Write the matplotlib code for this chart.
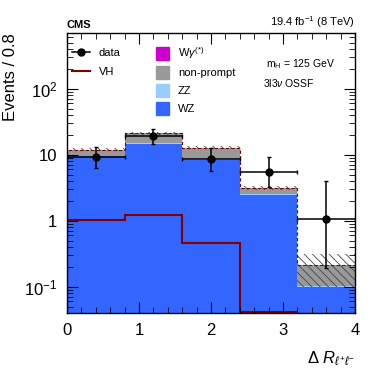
import numpy as np
import matplotlib
matplotlib.use("Agg")
import matplotlib.pyplot as plt
from matplotlib.patches import Patch
from matplotlib.lines import Line2D
from matplotlib.ticker import LogLocator, NullFormatter

plt.rcParams['font.family'] = ['Liberation Sans', 'DejaVu Sans']
plt.rcParams['mathtext.fontset'] = 'custom'
plt.rcParams['mathtext.rm'] = 'Liberation Sans'
plt.rcParams['mathtext.it'] = 'Liberation Sans:italic'
plt.rcParams['hatch.linewidth'] = 0.6

# binning in Delta R
edges = [0.0, 0.8, 1.6, 2.4, 3.2, 4.0]
# stacked backgrounds
wz = [9.4, 14.6, 8.4, 2.45, 0.10]
zz = [0.3, 0.4, 0.3, 0.10, 0.003]
nonprompt = [2.2, 6.0, 4.1, 0.55, 0.11]
wgamma = [0.02, 0.03, 0.02, 0.01, 0.0]
unc_lo = [11.3, 20.2, 12.3, 2.95, 0.10]
unc_hi = [12.6, 22.0, 13.7, 3.40, 0.31]
# signal
vh = [1.02, 1.24, 0.46, 0.041, 0.039]
# data
data_x = [0.4, 1.2, 2.0, 2.8, 3.6]
data_y = [9.2, 19.0, 8.6, 5.5, 1.05]
data_lo = [3.0, 4.3, 2.9, 2.3, 0.86]
data_hi = [4.1, 5.4, 4.0, 3.6, 2.9]

fig = plt.figure(figsize=(3.74, 3.92), dpi=100)
ax = fig.add_axes([0.179, 0.2015, 0.770, 0.7145])

e = np.array(edges)
base = np.zeros(5)
for vals, col in [(wz, '#3366ff'), (zz, '#99ccff'), (nonprompt, '#999999'), (wgamma, '#cc00cc')]:
    v = np.array(vals)
    ax.stairs(base + v, e, baseline=base, fill=True, color=col, lw=0)
    base = base + v

ax.stairs(unc_hi, e, baseline=unc_lo, fill=True, facecolor='none', edgecolor='#444444', hatch='\\\\\\\\', lw=0)
ax.stairs(base, e, color='#800000', lw=0.8, ls=(0, (3, 2)))
ax.stairs(vh, e, baseline=None, color='#800000', lw=1.5)

ax.errorbar(data_x, data_y, yerr=[data_lo, data_hi], xerr=0.4, fmt='o', color='black',
            ms=5, lw=1.1, capsize=1.5, capthick=1.0, zorder=5)

ax.set_yscale('log')
ax.set_xlim(0, 4)
ax.set_ylim(0.04, 700)
ax.set_yticks([0.1, 1, 10, 100])
ax.set_yticklabels([r'$10^{-1}$', '1', '10', r'$10^{2}$'])
ax.yaxis.set_minor_locator(LogLocator(base=10, subs=np.arange(2, 10), numticks=20))
ax.yaxis.set_minor_formatter(NullFormatter())
ax.set_xticks([0, 1, 2, 3, 4])
ax.set_xticks(np.arange(0, 4.01, 0.2), minor=True)
ax.tick_params(which='both', direction='in', top=True, right=True, labelsize=12, pad=7)
ax.tick_params(which='major', length=8)
ax.tick_params(which='minor', length=4)
for s in ax.spines.values():
    s.set_linewidth(1.0)

ax.set_ylabel('Events / 0.8', fontsize=12, loc='top', labelpad=4)
ax.set_xlabel(r'$\Delta\ R_{\ell^{+}\ell^{-}}$', fontsize=12, loc='right', labelpad=8)

ax.text(0.0, 1.01, 'CMS', transform=ax.transAxes, fontsize=8, fontweight='bold', ha='left', va='bottom')
ax.text(1.0, 1.01, r'19.4 fb$^{-1}$ (8 TeV)', transform=ax.transAxes, fontsize=8, ha='right', va='bottom')
ax.text(0.93, 0.89, r'm$_{\mathrm{H}}$ = 125 GeV', transform=ax.transAxes, fontsize=7.5, ha='right', va='center')
ax.text(0.86, 0.82, r'3l3$\nu$ OSSF', transform=ax.transAxes, fontsize=7.5, ha='right', va='center')

h1 = [Line2D([], [], color='black', marker='o', ms=5, lw=1.1),
      Line2D([], [], color='#800000', lw=1.5)]
ax.legend(h1, ['data', 'VH'], loc='upper left', bbox_to_anchor=(-0.01, 0.975), frameon=False,
          fontsize=8, handlelength=1.6, labelspacing=0.8, borderaxespad=0.3)
h2 = [Patch(color='#cc00cc'), Patch(color='#999999'), Patch(color='#99ccff'), Patch(color='#3366ff')]
fig.legend(h2, [r'W$\gamma^{(*)}$', 'non-prompt', 'ZZ', 'WZ'], loc='upper left',
           bbox_to_anchor=(0.39, 0.91), frameon=False, fontsize=8,
           handlelength=1.2, handleheight=1.4, labelspacing=0.45)

fig.savefig('out.png', dpi=100)
